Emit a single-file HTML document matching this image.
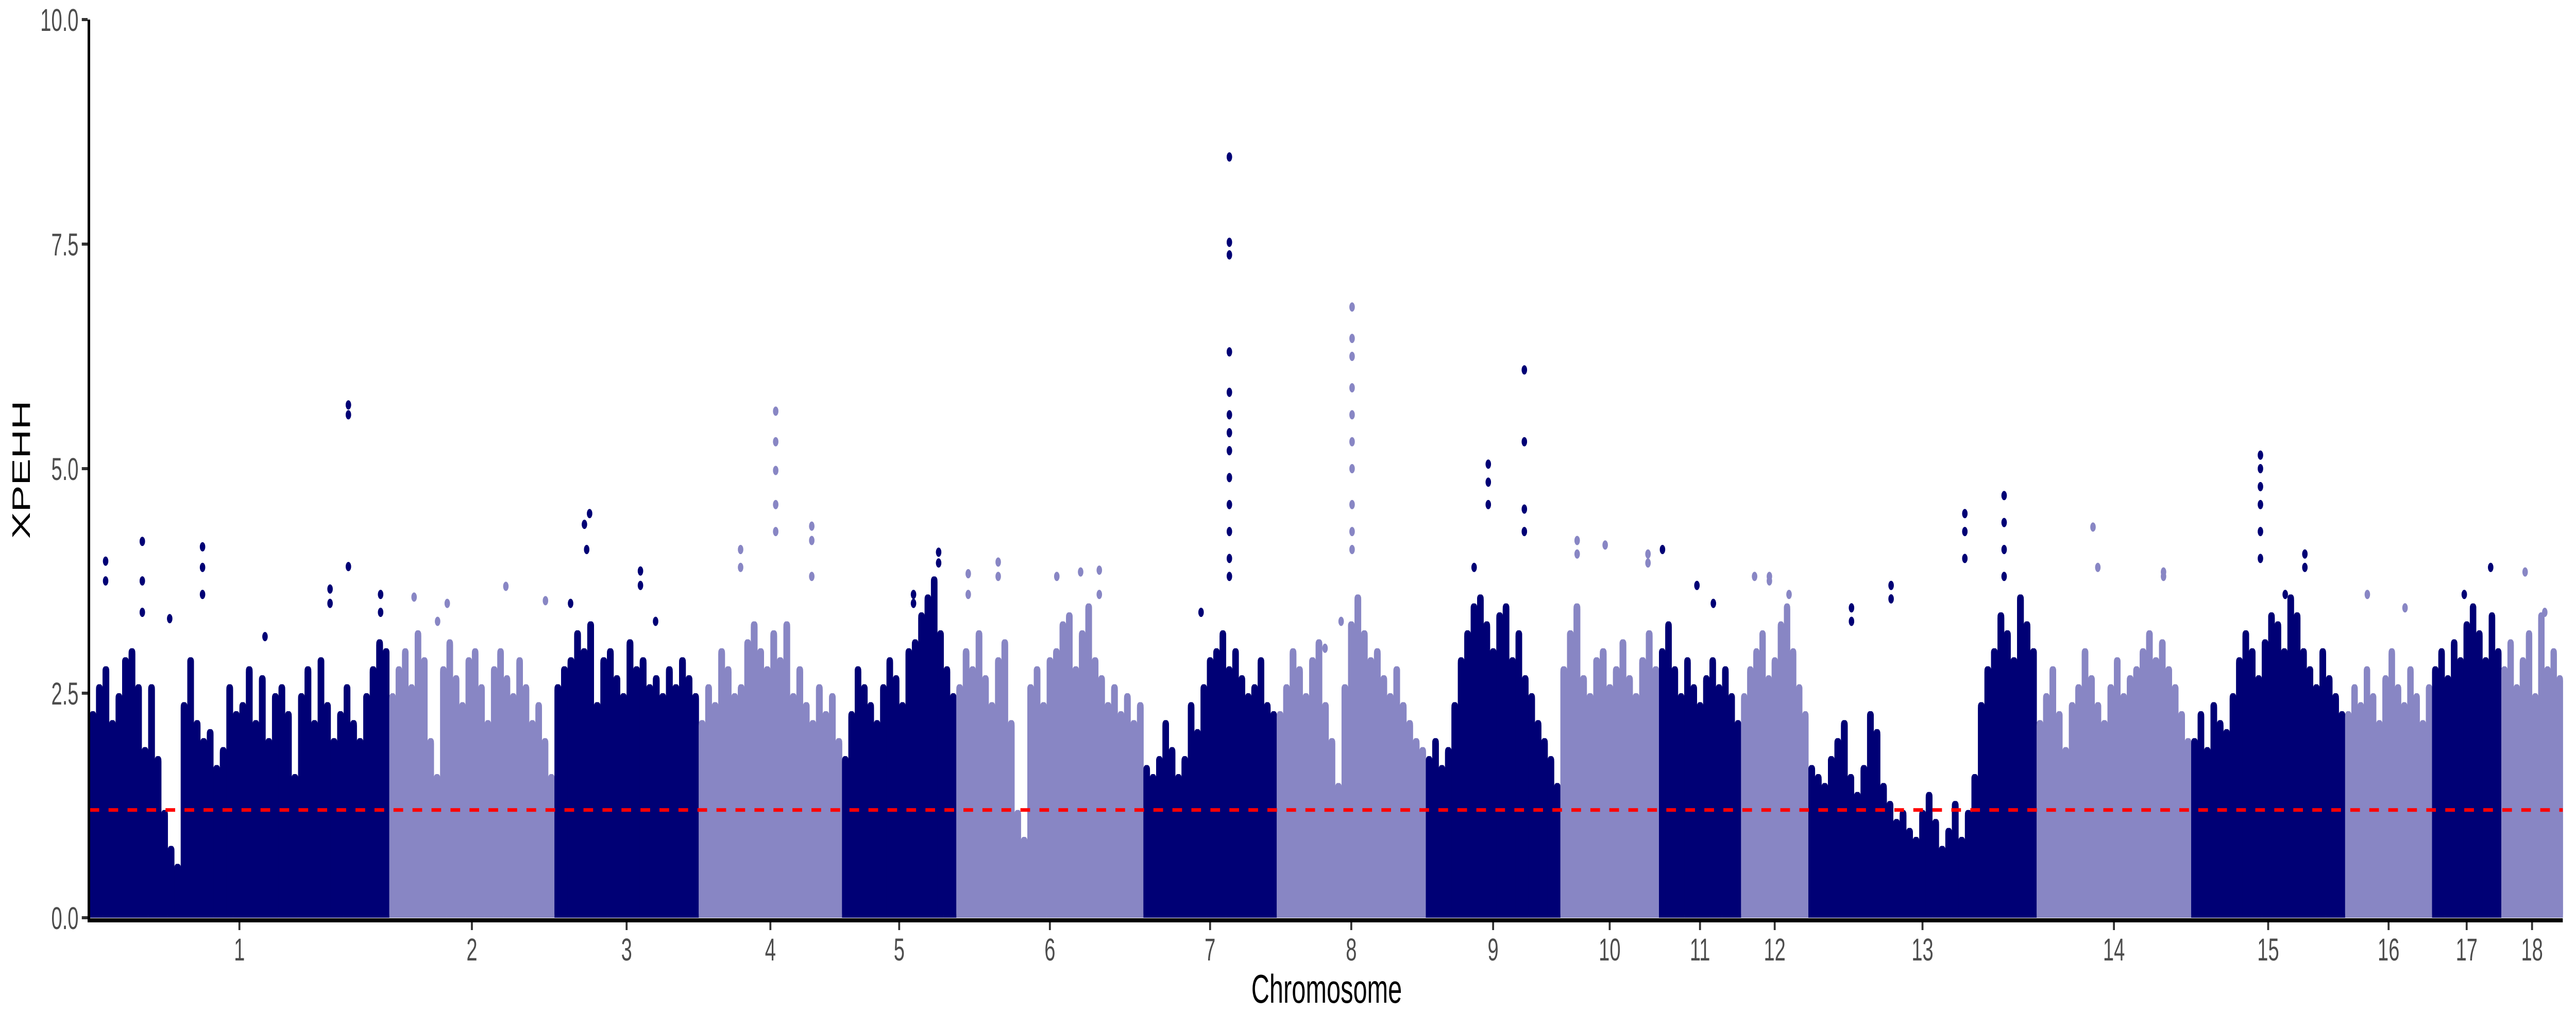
<!DOCTYPE html>
<html><head><meta charset="utf-8"><style>
html,body{margin:0;padding:0;background:#fff;width:100vw;height:100vh;overflow:hidden;}
svg{display:block;width:100vw;height:100vh;}
text{font-family:"Liberation Sans",Arial,sans-serif;}
</style></head><body>
<svg id="chart" viewBox="0 0 8000 2000" preserveAspectRatio="none" xmlns="http://www.w3.org/2000/svg">
<g id="marks"></g>
<g id="axes"></g>
<text x="0" y="0" transform="translate(93,912) rotate(-90)" font-size="78" text-anchor="middle" fill="#000">XPEHH</text>
<text x="4120" y="1947" font-size="78" text-anchor="middle" fill="#000">Chromosome</text>
</svg>
<script>
const chromNames = ["1","2","3","4","5","6","7","8","9","10","11","12","13","14","15","16","17","18"];
const chromLengths = [931,513,448,445,355,581,414,463,418,306,255,209,709,480,478,270,215,191];
const yTicks = [0,2.5,5,7.5,10];
const yTickLabels = ["0.0","2.5","5.0","7.5","10.0"];
const threshold = 1.2;
const env1 = [2.3,2.6,2.8,2.2,2.5,2.9,3.0,2.6,1.9,2.6,1.8,1.2,0.8,0.6,2.4,2.9,2.2,2.0,2.1,1.7,1.9,2.6,2.3,2.4,2.8,2.2,2.7,2.0,2.5,2.6,2.3,1.6,2.5,2.8,2.2,2.9,2.4,2.0,2.3,2.6,2.2,2.0,2.5,2.8,3.1,3.0];
const env2 = [2.5,2.8,3.0,2.6,3.2,2.9,2.0,1.6,2.8,3.1,2.7,2.4,2.9,3.0,2.6,2.2,2.8,3.0,2.7,2.5,2.9,2.6,2.2,2.4,2.0,1.6];
const env3 = [2.6,2.8,2.9,3.2,3.0,3.3,2.4,2.9,3.0,2.7,2.5,3.1,2.8,2.9,2.6,2.7,2.5,2.8,2.6,2.9,2.7,2.5];
const env4 = [2.2,2.6,2.4,3.0,2.8,2.5,2.6,3.1,3.3,3.0,2.8,3.2,2.9,3.3,2.5,2.8,2.4,2.2,2.6,2.3,2.5,2.0];
const env5 = [1.8,2.3,2.8,2.6,2.4,2.2,2.6,2.9,2.7,2.4,3.0,3.1,3.4,3.6,3.8,3.2,2.8,2.5];
const env6 = [2.6,3.0,2.8,3.2,2.7,2.4,2.9,3.1,2.2,1.2,0.9,2.6,2.8,2.4,2.9,3.0,3.3,3.4,2.8,3.2,3.5,2.9,2.7,2.4,2.6,2.3,2.5,2.2,2.4];
const env7 = [1.7,1.6,1.8,2.2,1.9,1.6,1.8,2.4,2.1,2.6,2.9,3.0,3.2,2.8,3.0,2.7,2.5,2.6,2.9,2.4,2.3];
const env8 = [2.3,2.6,3.0,2.8,2.5,2.9,3.1,2.4,2.0,1.5,2.6,3.3,3.6,3.2,2.9,3.0,2.7,2.5,2.8,2.4,2.2,2.0,1.9];
const env9 = [1.8,2.0,1.7,1.9,2.4,2.9,3.2,3.5,3.6,3.3,3.0,3.4,3.5,2.9,3.2,2.7,2.5,2.2,2.0,1.8,1.5];
const env10 = [2.8,3.2,3.5,2.7,2.5,2.9,3.0,2.6,2.8,3.1,2.7,2.5,2.9,3.2,2.8];
const env11 = [3.0,3.3,2.8,2.5,2.9,2.6,2.4,2.7,2.9,2.6,2.8,2.5,2.2];
const env12 = [2.5,2.8,3.0,3.2,2.7,2.9,3.3,3.5,3.0,2.6,2.3];
const env13 = [1.7,1.6,1.5,1.8,2.0,2.2,1.6,1.4,1.7,2.3,2.1,1.5,1.3,1.1,1.2,1.0,0.9,1.2,1.4,1.1,0.8,1.0,1.3,0.9,1.2,1.6,2.4,2.8,3.0,3.4,3.2,2.9,3.6,3.3,3.0];
const env14 = [2.2,2.5,2.8,2.3,1.9,2.4,2.6,3.0,2.7,2.4,2.2,2.6,2.9,2.5,2.7,2.8,3.0,3.2,2.9,3.1,2.8,2.6,2.3,2.0];
const env15 = [2.0,2.3,1.9,2.4,2.2,2.1,2.5,2.9,3.2,3.0,2.7,3.1,3.4,3.3,3.0,3.6,3.4,3.0,2.8,2.6,3.0,2.7,2.5,2.3];
const env16 = [2.3,2.6,2.4,2.8,2.5,2.2,2.7,3.0,2.6,2.4,2.8,2.5,2.2,2.6];
const env17 = [2.8,3.0,2.7,3.1,2.9,3.3,3.5,3.2,2.9,3.4,3.0];
const env18 = [2.8,3.1,2.6,2.9,3.2,2.5,3.4,2.8,3.0,2.7];
const envelopes = [env1,env2,env3,env4,env5,env6,env7,env8,env9,env10,env11,env12,env13,env14,env15,env16,env17,env18];
const peakChrom = [0,0,0,0,0,0,0,0,0,0,0,0,0,0,0,0,0, 1,1,1,1,1, 2,2,2,2,2,2,2, 3,3,3,3,3,3,3,3,3,3, 4,4,4,4, 5,5,5,5,5,5,5,5, 6,6,6,6,6,6,6,6,6,6,6,6,6,6, 7,7,7,7,7,7,7,7,7,7,7,7, 8,8,8,8,8,8,8,8, 9,9,9,9,9, 10,10,10, 11,11,11,11, 12,12,12,12,12,12,12,12,12,12,12, 13,13,13,13, 14,14,14,14,14,14,14,14,14, 15,15, 16,16, 17,17];
const peakPos = [50,50,164,164,164,249,351,351,351,545,747,747,804,804,804,904,904, 77,180,362,485,150, 50,109,93,100,267,267,314, 239,239,239,239,239,130,130,351,351,351, 300,300,222,222, 37,37,130,130,312,386,444,444, 267,267,267,267,267,267,267,267,267,267,267,267,267,179, 234,234,234,234,234,234,234,234,234,234,200,150, 194,194,194,306,306,306,306,150, 52,52,139,272,272, 11,118,169, 42,88,88,149, 134,134,257,257,486,486,486,608,608,608,608, 175,190,394,394, 215,215,215,215,215,215,353,353,292, 69,186, 100,182, 74,135];
const peakVal = [3.97,3.75,4.19,3.75,3.4,3.33,4.13,3.9,3.6,3.13,3.66,3.5,5.71,5.6,3.91,3.6,3.4, 3.57,3.5,3.69,3.53,3.3, 3.5,4.5,4.38,4.1,3.86,3.7,3.3, 5.64,5.3,4.98,4.6,4.3,4.1,3.9,4.36,4.2,3.8, 4.07,3.95,3.6,3.5, 3.83,3.6,3.96,3.8,3.8,3.85,3.87,3.6, 8.47,7.52,7.38,6.3,5.85,5.6,5.4,5.2,4.9,4.6,4.3,4.0,3.8,3.4, 6.8,6.45,6.25,5.9,5.6,5.3,5.0,4.6,4.3,4.1,3.3,3.0, 5.05,4.85,4.6,6.1,5.3,4.55,4.3,3.9, 4.2,4.05,4.15,4.05,3.95, 4.1,3.7,3.5, 3.8,3.8,3.75,3.6, 3.45,3.3,3.7,3.55,4.5,4.3,4.0,4.7,4.4,4.1,3.8, 4.35,3.9,3.85,3.8, 5.15,5.0,4.8,4.6,4.3,4.0,4.05,3.9,3.6, 3.6,3.45, 3.6,3.9, 3.85,3.4];

const NS="http://www.w3.org/2000/svg";
const X0=278, X1=7959, Y0=1782, Y10=38;
const total = chromLengths.reduce((a,b)=>a+b,0);
const xScale = v => X0 + v/total*(X1-X0);
const yScale = v => Y0 - v/10*(Y0-Y10);
const colors = ["#000075","#8886C4"];
const starts=[]; {let s=0; for(const l of chromLengths){starts.push(s); s+=l;}}
const marks=document.getElementById('marks');
const axes=document.getElementById('axes');
function mk(tag,attrs,parent){const e=document.createElementNS(NS,tag);for(const k in attrs)e.setAttribute(k,attrs[k]);parent.appendChild(e);return e;}

chromLengths.forEach((len,ci)=>{
  const g=mk('g',{},marks);
  
  
  const env=envelopes[ci], n=env.length, col=colors[ci%2];
  for(let b=0;b<n;b++){
    const xa=xScale(starts[ci]+len*b/n), xb=xScale(starts[ci]+len*(b+1)/n);
    const yt=yScale(env[b]);
    const r=mk('rect',{x:xa.toFixed(1),y:yt.toFixed(1),width:(xb-xa+0.6).toFixed(1),height:(Y0-yt).toFixed(1),fill:col,rx:8,ry:8},g);
    
    
    mk('rect',{x:xa.toFixed(1),y:(yt+10).toFixed(1),width:(xb-xa+0.6).toFixed(1),height:(Y0-yt-10).toFixed(1),fill:col},g);
  }
});
peakVal.forEach((v,i)=>{
  const ci=peakChrom[i];
  const c=mk('ellipse',{cx:xScale(starts[ci]+peakPos[i]).toFixed(1),cy:yScale(v).toFixed(1),rx:8.5,ry:9,fill:colors[ci%2]},marks);
  
  
});
const th=mk('line',{x1:X0,x2:X1,y1:yScale(threshold),y2:yScale(threshold),stroke:"#FF0000","stroke-width":7,"stroke-dasharray":"30 29"},marks);



const ya=mk('line',{x1:X0-2,x2:X0-2,y1:Y10,y2:Y0+8,stroke:"#000","stroke-width":8},axes);


const xa=mk('line',{x1:X0-6,x2:X1,y1:Y0+5,y2:Y0+5,stroke:"#000","stroke-width":8},axes);


yTicks.forEach((t,i)=>{
  const y=yScale(t);
  const tk=mk('line',{x1:X0-24,x2:X0-6,y1:y,y2:y,stroke:"#333","stroke-width":6},axes);
  
  
  const tx=mk('text',{x:244,y:y+22,"font-size":61,"text-anchor":"end",fill:"#4D4D4D"},axes);
  tx.textContent=yTickLabels[i];
  
  
});
chromLengths.forEach((len,ci)=>{
  const x=xScale(starts[ci]+len/2);
  const tk=mk('line',{x1:x,x2:x,y1:Y0+9,y2:Y0+24,stroke:"#333","stroke-width":6},axes);
  
  
  const tx=mk('text',{x:x,y:1865,"font-size":61,"text-anchor":"middle",fill:"#4D4D4D"},axes);
  tx.textContent=chromNames[ci];
  
  
});
</script>
</body></html>
